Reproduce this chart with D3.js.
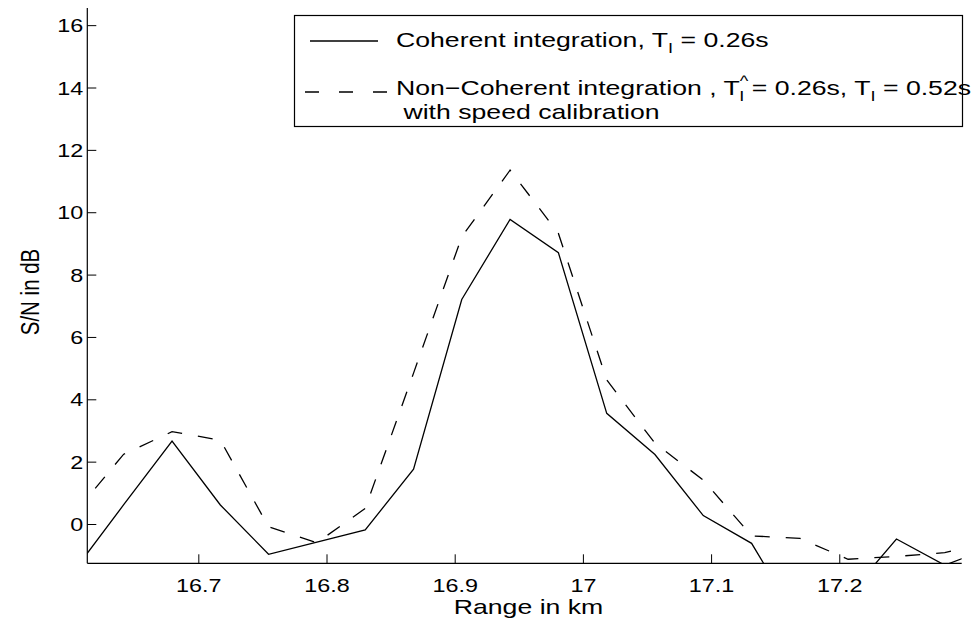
<!DOCTYPE html>
<html>
<head>
<meta charset="utf-8">
<script src="https://cdn.jsdelivr.net/npm/d3@7"></script>
<style>
  html, body { margin: 0; padding: 0; background: #fff; }
  svg { display: block; }
  text { font-family: "Liberation Sans", Arial, Helvetica, sans-serif; fill: #000; }
</style>
</head>
<body>
<svg id="chart" width="976" height="621"></svg>
<script>
// Range bins (km)
const rangeKm = [16.6041, 16.6418, 16.6795, 16.7172, 16.7548, 16.7925, 16.8302, 16.8679, 16.9055, 16.9432,
                 16.9809, 17.0186, 17.0562, 17.0939, 17.1316, 17.1693, 17.2069, 17.2446, 17.2823, 17.3200];
// S/N (dB), coherent integration
const coherentDb = [-1.45, 0.62, 2.66, 0.61, -0.97, -0.58, -0.19, 1.76, 7.20, 9.77,
                    8.70, 3.55, 2.23, 0.27, -0.62, -3.2, -2.3, -0.48, -1.32, -0.73];
// S/N (dB), non-coherent integration with speed calibration
const nonCoherentDb = [0.38, 2.24, 2.96, 2.69, -0.09, -0.60, 0.50, 4.84, 9.21, 11.35,
                       9.32, 4.62, 2.59, 1.41, -0.38, -0.46, -1.13, -1.04, -0.92, -0.55];
const xTicks = [16.7, 16.8, 16.9, 17, 17.1, 17.2];
const yTicks = [0, 2, 4, 6, 8, 10, 12, 14, 16];
const xLimits = [16.6134, 17.2955];
const yLimits = [-1.26, 16.55];

const svg = d3.select("#chart");
const plot = { left: 87.3, right: 961.7, top: 8, bottom: 563.3 };
const stretch = 1.3;      // horizontal widening of the figure's lettering
const tickStretch = 1.23;

const x = d3.scaleLinear().domain(xLimits).range([plot.left, plot.right]);
const y = d3.scaleLinear().domain(yLimits).range([plot.bottom, plot.top]);

svg.append("defs").append("clipPath").attr("id", "plotClip")
  .append("rect")
  .attr("x", plot.left).attr("y", plot.top)
  .attr("width", plot.right - plot.left).attr("height", plot.bottom - plot.top);

// Axes with inward ticks
const tickFont = 19;
const xAxis = d3.axisBottom(x).tickValues(xTicks).tickSize(-9).tickFormat(d => String(d));
const yAxis = d3.axisLeft(y).tickValues(yTicks).tickSize(-9).tickFormat(d => String(d));

const gx = svg.append("g").attr("transform", `translate(0,${plot.bottom})`).call(xAxis);
const gy = svg.append("g").attr("transform", `translate(${plot.left},0)`).call(yAxis);
[gx, gy].forEach(g => {
  g.select(".domain").attr("stroke", "#000").attr("stroke-width", 1.2);
  g.selectAll(".tick line").attr("stroke", "#000").attr("stroke-width", 1);
  g.selectAll(".tick text").attr("font-size", tickFont)
    .attr("font-family", "Liberation Sans, Arial, sans-serif").attr("fill", "#000");
});
gx.select(".domain").attr("d", `M${plot.left},0H${plot.right}`);
gy.select(".domain").attr("d", `M0,${plot.bottom}V${plot.top}`);
gx.selectAll(".tick text").attr("x", 0).attr("y", 0).attr("dy", null)
  .attr("transform", `translate(0,28.5) scale(${tickStretch},1)`);
gy.selectAll(".tick text").attr("x", 0).attr("y", 0).attr("dy", "0.35em")
  .attr("transform", `translate(-4,0) scale(${tickStretch},1)`);

// Series
const line = d3.line().x((d, i) => x(rangeKm[i])).y(d => y(d));
const lines = svg.append("g").attr("clip-path", "url(#plotClip)");
lines.append("path").datum(coherentDb)
  .attr("d", line).attr("fill", "none").attr("stroke", "#000").attr("stroke-width", 1.3);
lines.append("path").datum(nonCoherentDb)
  .attr("d", line).attr("fill", "none").attr("stroke", "#000").attr("stroke-width", 1.3)
  .attr("stroke-dasharray", "15,16");

// Axis titles
const labelFont = 20.5;
svg.append("text")
  .attr("transform", `translate(${(plot.left + plot.right) / 2 + 4},614) scale(${stretch},1)`)
  .attr("text-anchor", "middle").attr("font-size", labelFont).text("Range in km");
svg.append("text")
  .attr("transform", `translate(39,292) rotate(-90) scale(1,${stretch})`)
  .attr("text-anchor", "middle").attr("font-size", labelFont).text("S/N in dB");

// Legend
const lg = svg.append("g");
lg.append("rect").attr("x", 294.5).attr("y", 15.5).attr("width", 668).attr("height", 111)
  .attr("fill", "#fff").attr("stroke", "#000").attr("stroke-width", 1.2);
lg.append("line").attr("x1", 310).attr("x2", 378).attr("y1", 41).attr("y2", 41)
  .attr("stroke", "#000").attr("stroke-width", 1.3);
lg.append("line").attr("x1", 305).attr("x2", 388).attr("y1", 92).attr("y2", 92)
  .attr("stroke", "#000").attr("stroke-width", 1.3).attr("stroke-dasharray", "14,20");

const t1 = lg.append("text").attr("transform", `translate(396,47) scale(${stretch},1)`)
  .attr("font-size", labelFont);
t1.append("tspan").text("Coherent integration, T");
t1.append("tspan").attr("font-size", 14).attr("dy", 6).text("I");
t1.append("tspan").attr("dy", -6).text(" = 0.26s");

const t2 = lg.append("text").attr("transform", `translate(396,95) scale(${stretch},1)`)
  .attr("font-size", labelFont);
t2.append("tspan").text("Non\u2212Coherent integration , T");
t2.append("tspan").attr("font-size", 14).attr("dy", -9).text("^");
t2.append("tspan").attr("font-size", 14).attr("dx", -7).attr("dy", 15).text("I");
t2.append("tspan").attr("dy", -6).text(" = 0.26s, T");
t2.append("tspan").attr("font-size", 14).attr("dy", 6).text("I");
t2.append("tspan").attr("dy", -6).text(" = 0.52s");

lg.append("text").attr("transform", `translate(396,119) scale(${stretch},1)`)
  .attr("font-size", labelFont).text("\u00a0with speed calibration");
</script>
</body>
</html>
